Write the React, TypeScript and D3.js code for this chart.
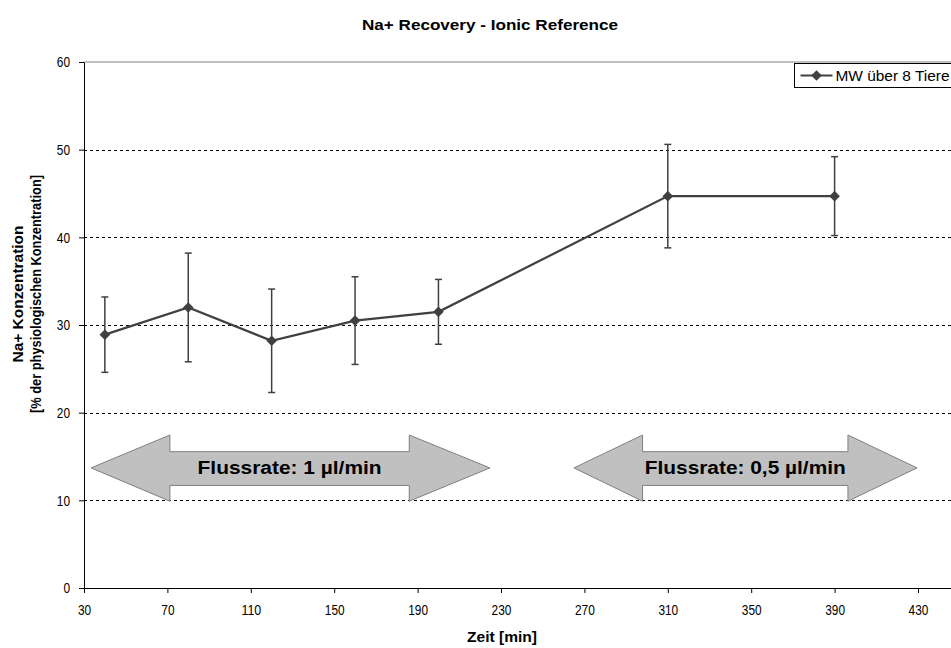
import * as d3 from "d3";
import { useEffect, useRef } from "react";

// Messzeitpunkte [min], Mittelwerte und Fehlerbalken (MW über 8 Tiere)
const times = [40, 80, 120, 160, 200, 310, 390];
const means = [28.9, 32.0, 28.2, 30.5, 31.5, 44.7, 44.7];
const errors = [4.3, 6.2, 5.9, 5.0, 3.7, 5.9, 4.5];

const xTicks = [30, 70, 110, 150, 190, 230, 270, 310, 350, 390, 430];
const yTicks = [0, 10, 20, 30, 40, 50, 60];
const gridValues = [10, 20, 30, 40, 50];

// Pfeile für die Flussraten (in Datenkoordinaten)
const arrowLabels = ["Flussrate: 1 µl/min", "Flussrate: 0,5 µl/min"];
const arrowTips = [[33.4, 224.7], [265, 429.5]];
const arrowHeadBases = [[71.2, 186], [297.9, 396.4]];
const arrowY = { center: 13.7, shaftTop: 15.55, shaftBottom: 11.7, headTop: 17.45, headBottom: 9.9 };

const W = 951;
const H = 648;
const margin = { top: 62, left: 84, bottom: 60 };
const FONT = "'Liberation Sans', Arial, sans-serif";

const App = () => {
  const svgRef = useRef<SVGSVGElement>(null);

  useEffect(() => {
    if (!svgRef.current) return;
    const svg = d3.select(svgRef.current);
    svg.selectAll("*").remove();

    const x = d3.scaleLinear().domain([30, 470]).range([margin.left, margin.left + 440 * 2.085]);
    const y = d3.scaleLinear().domain([0, 60]).range([H - margin.bottom, margin.top]);

    svg.append("rect").attr("width", W).attr("height", H).attr("fill", "white");

    // Plotbereich-Rahmen oben
    svg
      .append("line")
      .attr("x1", x(30))
      .attr("x2", x(470))
      .attr("y1", y(60))
      .attr("y2", y(60))
      .attr("stroke", "#808080")
      .attr("stroke-width", 1);

    // Gitterlinien
    svg
      .append("g")
      .selectAll("line")
      .data(gridValues)
      .join("line")
      .attr("x1", x(30))
      .attr("x2", x(470))
      .attr("y1", d => Math.round(y(d)) + 0.5)
      .attr("y2", d => Math.round(y(d)) + 0.5)
      .attr("stroke", "#000")
      .attr("stroke-width", 1)
      .attr("stroke-dasharray", "3,3");

    // Achsen
    const yAxis = svg
      .append("g")
      .attr("transform", `translate(${x(30)},0)`)
      .call(d3.axisLeft(y).tickValues(yTicks).tickSize(5).tickSizeOuter(0).tickPadding(9));
    const xAxis = svg
      .append("g")
      .attr("transform", `translate(0,${y(0)})`)
      .call(d3.axisBottom(x).tickValues(xTicks).tickSize(5).tickSizeOuter(0).tickPadding(11));
    for (const ax of [yAxis, xAxis]) {
      ax.selectAll<SVGTextElement, number>("text")
        .attr("font-family", FONT)
        .attr("font-size", 15)
        .attr("fill", "#000")
        .attr("textLength", d => String(d).length * 6.6)
        .attr("lengthAdjust", "spacingAndGlyphs");
      ax.selectAll("line, path").attr("stroke", "#000");
    }

    // Fehlerbalken
    const eb = svg.append("g").attr("stroke", "#404040").attr("stroke-width", 1.5);
    times.forEach((t, i) => {
      const cx = x(t);
      const top = y(means[i] + errors[i]);
      const bot = y(means[i] - errors[i]);
      eb.append("line").attr("x1", cx).attr("x2", cx).attr("y1", top).attr("y2", bot);
      eb.append("line").attr("x1", cx - 3.5).attr("x2", cx + 3.5).attr("y1", top).attr("y2", top);
      eb.append("line").attr("x1", cx - 3.5).attr("x2", cx + 3.5).attr("y1", bot).attr("y2", bot);
    });

    // Linie
    const line = d3
      .line<number>()
      .x((_, i) => x(times[i]))
      .y(d => y(d));
    svg
      .append("path")
      .datum(means)
      .attr("fill", "none")
      .attr("stroke", "#404040")
      .attr("stroke-width", 2.2)
      .attr("d", line);

    const diamond = d3.symbol().type(d3.symbolSquare).size(56);
    svg
      .append("g")
      .selectAll("path")
      .data(means)
      .join("path")
      .attr("d", diamond)
      .attr("transform", (d, i) => `translate(${x(times[i])},${y(d)}) rotate(45)`)
      .attr("fill", "#404040");

    // Pfeile
    arrowLabels.forEach((label, i) => {
      const [t0, t1] = arrowTips[i];
      const [b0, b1] = arrowHeadBases[i];
      const pts: [number, number][] = [
        [x(t0), y(arrowY.center)],
        [x(b0), y(arrowY.headTop)],
        [x(b0), y(arrowY.shaftTop)],
        [x(b1), y(arrowY.shaftTop)],
        [x(b1), y(arrowY.headTop)],
        [x(t1), y(arrowY.center)],
        [x(b1), y(arrowY.headBottom)],
        [x(b1), y(arrowY.shaftBottom)],
        [x(b0), y(arrowY.shaftBottom)],
        [x(b0), y(arrowY.headBottom)],
      ];
      svg
        .append("path")
        .attr("d", d3.line()(pts) + "Z")
        .attr("fill", "#c0c0c0")
        .attr("stroke", "#7f7f7f")
        .attr("stroke-width", 1);
      const cx = (x(b0) + x(b1)) / 2;
      svg
        .append("text")
        .attr("x", cx)
        .attr("y", y(arrowY.center) + 6.5)
        .attr("text-anchor", "middle")
        .attr("font-family", FONT)
        .attr("font-weight", "bold")
        .attr("font-size", 18)
        .attr("textLength", i === 0 ? 184 : 201)
        .attr("lengthAdjust", "spacingAndGlyphs")
        .text(label);
    });

    // Titel und Achsentitel
    svg
      .append("text")
      .attr("x", 490)
      .attr("y", 30)
      .attr("text-anchor", "middle")
      .attr("font-family", FONT)
      .attr("font-weight", "bold")
      .attr("font-size", 14)
      .attr("textLength", 256)
      .attr("lengthAdjust", "spacingAndGlyphs")
      .text("Na+ Recovery - Ionic Reference");

    svg
      .append("text")
      .attr("x", 502)
      .attr("y", 642)
      .attr("text-anchor", "middle")
      .attr("font-family", FONT)
      .attr("font-weight", "bold")
      .attr("font-size", 14)
      .attr("textLength", 70)
      .attr("lengthAdjust", "spacingAndGlyphs")
      .text("Zeit [min]");

    const yTitle = svg
      .append("text")
      .attr("transform", "translate(0,294) rotate(-90)")
      .attr("text-anchor", "middle")
      .attr("font-family", FONT)
      .attr("font-weight", "bold")
      .attr("font-size", 15);
    yTitle.append("tspan").attr("x", 0).attr("y", 23).attr("textLength", 137).attr("lengthAdjust", "spacingAndGlyphs").text("Na+ Konzentration");
    yTitle
      .append("tspan")
      .attr("x", 0)
      .attr("y", 41)
      .attr("textLength", 238)
      .attr("lengthAdjust", "spacingAndGlyphs")
      .text("[% der physiologischen Konzentration]");

    // Legende
    const lg = svg.append("g").attr("transform", "translate(794.5,63.5)");
    lg.append("rect").attr("width", 200).attr("height", 24).attr("fill", "white").attr("stroke", "#000");
    lg.append("line").attr("x1", 6).attr("x2", 38).attr("y1", 12).attr("y2", 12).attr("stroke", "#404040").attr("stroke-width", 2);
    lg.append("path").attr("d", diamond).attr("transform", "translate(22,12) rotate(45)").attr("fill", "#404040");
    lg.append("text")
      .attr("x", 41)
      .attr("y", 17)
      .attr("font-family", FONT)
      .attr("font-size", 14)
      .attr("textLength", 114)
      .attr("lengthAdjust", "spacingAndGlyphs")
      .text("MW über 8 Tiere");
  }, []);

  return (
    <svg
      ref={svgRef}
      width={W}
      height={H}
      style={{ position: "absolute", left: 0, top: 0, display: "block" }}
    ></svg>
  );
};

export default App;
